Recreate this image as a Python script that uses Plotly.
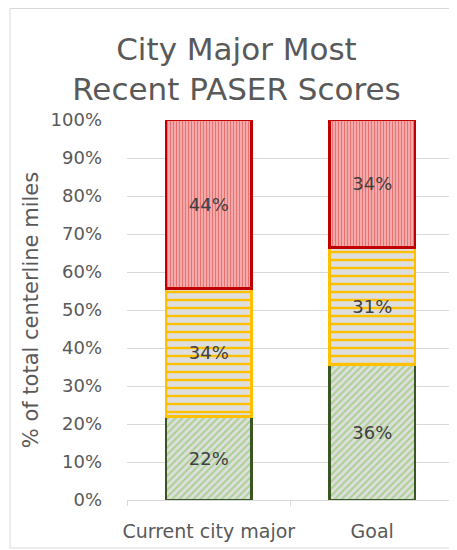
import plotly.graph_objects as go

categories = ["Current city major", "Goal"]
good = [22.0, 35.6]      # green
fair = [33.6, 30.9]      # yellow
poor = [44.4, 33.5]      # red
y_ticks = [0, 10, 20, 30, 40, 50, 60, 70, 80, 90, 100]
y_tick_labels = ["0%", "10%", "20%", "30%", "40%", "50%", "60%", "70%", "80%", "90%", "100%"]

# page body has an 8px margin: figure coords = screen - 8
OFF = 8
W, H = 457, 550
L, R, T, B = 119, 11, 112, 58
pw, ph = W - L - R, H - T - B

def px_x(p):   # screen px -> paper
    return (p - OFF - L) / pw

def px_y(p):
    return (H - B - (p - OFF)) / ph

FONT = "DejaVu Sans"
GRAY = "#595959"

fig = go.Figure()
series = [
    (good, "Good", "/", "#dedede", "#a9d18e", "#375623", 5, 0.4),
    (fair, "Fair", "-", "#dedede", "#ffc000", "#ffc000", 8, 0.3),
    (poor, "Poor", "|", "#f4bcbc", "#ec7272", "#c00000", 3, 0.5),
]
for vals, name, shape, bg, fg, line, size, sol in series:
    fig.add_trace(go.Bar(
        x=categories, y=vals, name=name,
        marker=dict(
            color=bg,
            pattern=dict(shape=shape, bgcolor=bg, fgcolor=fg, size=size,
                         solidity=sol, fillmode="replace"),
            line=dict(color=line, width=2.5),
        ),
        texttemplate="%{y:.0f}%",
        textposition="inside",
        insidetextanchor="middle",
        textangle=0,
        textfont=dict(family=FONT, size=18, color="#404040"),
        hoverinfo="skip",
    ))

fig.update_layout(
    width=W, height=H,
    margin=dict(l=L, r=R, t=T, b=B, autoexpand=False),
    barmode="stack",
    bargap=0.48,
    showlegend=False,
    plot_bgcolor="white",
    paper_bgcolor="white",
    font=dict(family=FONT, color=GRAY),
    title=dict(
        text="City Major Most<br>Recent PASER Scores",
        font=dict(family=FONT, size=31, color=GRAY),
        x=px_x(236.5), xref="paper", xanchor="center",
        y=1 - 52 / H, yref="container", yanchor="top",
    ),
    uniformtext=dict(minsize=8, mode="show"),
    shapes=[dict(type="rect", xref="paper", yref="paper",
                 x0=px_x(10), x1=px_x(475), y0=px_y(548), y1=px_y(8.5),
                 line=dict(color="#d9d9d9", width=1), layer="below")],
)

fig.update_yaxes(
    range=[0, 100],
    tickmode="array",
    tickvals=y_ticks,
    ticktext=y_tick_labels,
    showgrid=True, gridcolor="#d9d9d9", gridwidth=1,
    zeroline=False, showline=False, ticks="",
    tickfont=dict(family=FONT, size=18, color=GRAY),
    ticklabelstandoff=24,
    automargin=False,
    title=dict(text="% of total centerline miles",
               font=dict(family=FONT, size=21, color=GRAY), standoff=6),
)
fig.update_xaxes(
    showline=True, linecolor="#d9d9d9", linewidth=1,
    ticks="outside", tickson="boundaries", ticklen=5, tickcolor="#d9d9d9",
    tickfont=dict(family=FONT, size=19, color=GRAY),
    tickangle=0,
    ticklabelstandoff=14,
    automargin=False,
    showgrid=False,
)

fig.write_html("out.html")
